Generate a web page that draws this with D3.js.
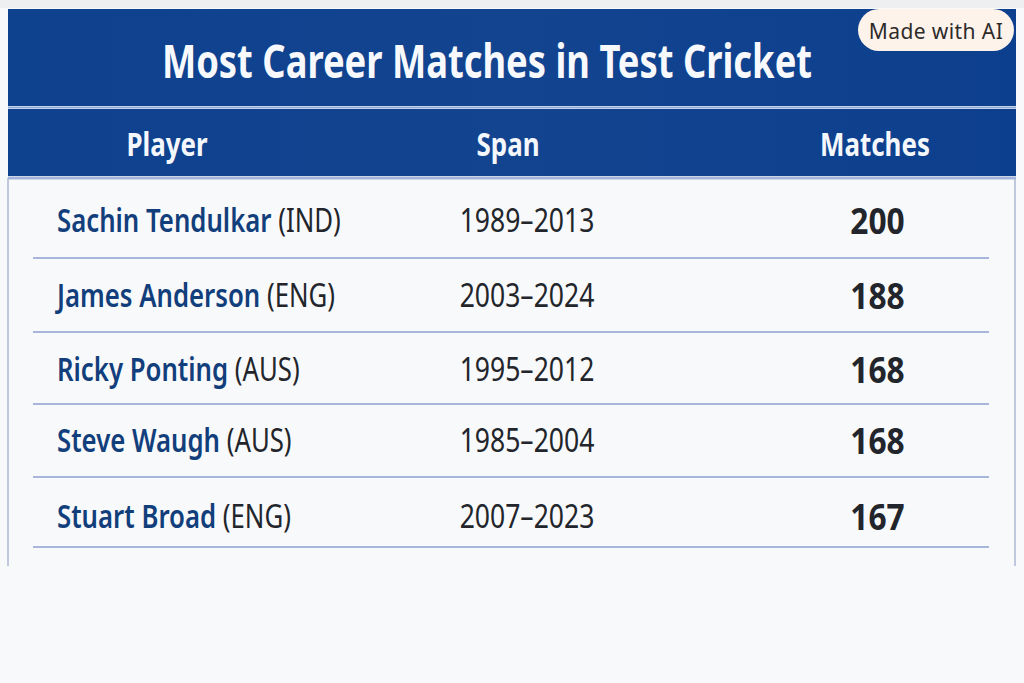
<!DOCTYPE html>
<html>
<head>
<meta charset="utf-8">
<script src="https://cdn.jsdelivr.net/npm/d3@7"></script>
<style>
  html, body { margin: 0; padding: 0; background: #f8f9fa; }
  svg { display: block; }
  text { font-family: "Noto Sans", sans-serif; }
</style>
</head>
<body>
<div id="chart"></div>
<script>
const title = "Most Career Matches in Test Cricket";
const columns = ["Player", "Span", "Matches"];
const players = ["Sachin Tendulkar", "James Anderson", "Ricky Ponting", "Steve Waugh", "Stuart Broad"];
const countries = ["IND", "ENG", "AUS", "AUS", "ENG"];
const spans = ["1989–2013", "2003–2024", "1995–2012", "1985–2004", "2007–2023"];
const matches = [200, 188, 168, 168, 167];

// layout of the table
const rowRules = [258, 332, 404, 477, 547];
const rowText = [221, 296, 370, 441, 517];
const blue = "#0f4190", rule = "#a9b6dc", nameBlue = "#123f7c", ink = "#22252b";

const width = 1024, height = 683;

const svg = d3.select("#chart").append("svg")
    .attr("width", width)
    .attr("height", height);

const defs = svg.append("defs");
const grad = defs.append("linearGradient").attr("id", "head").attr("x1", 0).attr("x2", 1).attr("y1", 0).attr("y2", 0);
grad.append("stop").attr("offset", "0%").attr("stop-color", "#0e418e");
grad.append("stop").attr("offset", "50%").attr("stop-color", "#124490");
grad.append("stop").attr("offset", "100%").attr("stop-color", "#0c3f8d");

svg.append("rect").attr("width", width).attr("height", height).attr("fill", "#f8f9fa");
svg.append("rect").attr("width", width).attr("height", 8).attr("fill", "#eeeff0");

// frame down the sides of the table body
[8, 1015].forEach(x => {
    svg.append("line")
        .attr("x1", x).attr("x2", x)
        .attr("y1", 178).attr("y2", 566)
        .attr("stroke", "#aeb7d4")
        .attr("stroke-width", 1.5);
});

// title and header bands
svg.append("rect").attr("x", 8).attr("y", 9).attr("width", 1008).attr("height", 97).attr("fill", "url(#head)");
svg.append("rect").attr("x", 8).attr("y", 109).attr("width", 1008).attr("height", 67).attr("fill", "url(#head)");
svg.append("line").attr("x1", 8).attr("x2", 1016).attr("y1", 107.5).attr("y2", 107.5).attr("stroke", "#8fa9d8").attr("stroke-width", 2);
svg.append("line").attr("x1", 8).attr("x2", 1016).attr("y1", 178).attr("y2", 178).attr("stroke", "#a3b4da").attr("stroke-width", 3);

// the font in the picture is narrower than Noto Sans, so every label is squeezed
function label(x, y, str, size, weight, fill, squeeze) {
    return svg.append("text")
        .attr("transform", `translate(${x},${y}) scale(${squeeze},1)`)
        .attr("dominant-baseline", "central")
        .attr("font-size", size)
        .attr("font-weight", weight)
        .attr("fill", fill)
        .text(str);
}

label(487, 60, title, 46, 700, "#f7f9fc", 0.79).attr("text-anchor", "middle");

const headX = [167, 508, 875];
columns.forEach((c, i) => {
    label(headX[i], 144, c, 32, 700, "#f4f7fb", 0.81).attr("text-anchor", "middle");
});

// rows
svg.selectAll("line.row")
    .data(rowRules)
    .enter().append("line")
    .attr("class", "row")
    .attr("x1", 33).attr("x2", 989)
    .attr("y1", d => d).attr("y2", d => d)
    .attr("stroke", rule)
    .attr("stroke-width", 2);

players.forEach((p, i) => {
    const t = label(57, rowText[i] - 1, p, 32, 600, nameBlue, 0.805);
    t.append("tspan")
        .attr("font-weight", 400)
        .attr("fill", ink)
        .text(` (${countries[i]})`);
    label(527, rowText[i] - 1, spans[i], 32, 400, ink, 0.83).attr("text-anchor", "middle");
    label(877.5, rowText[i] - 1, matches[i], 36, 700, ink, 0.88).attr("text-anchor", "middle");
});

// badge
svg.append("rect")
    .attr("x", 858).attr("y", 9)
    .attr("width", 156).attr("height", 42)
    .attr("rx", 21)
    .attr("fill", "#fdf3ea");
svg.append("text")
    .attr("x", 936).attr("y", 31)
    .attr("text-anchor", "middle")
    .attr("dominant-baseline", "central")
    .attr("font-size", 21)
    .attr("fill", "#2d2b2a")
    .style("letter-spacing", "0.4px")
    .text("Made with AI");
</script>
</body>
</html>
